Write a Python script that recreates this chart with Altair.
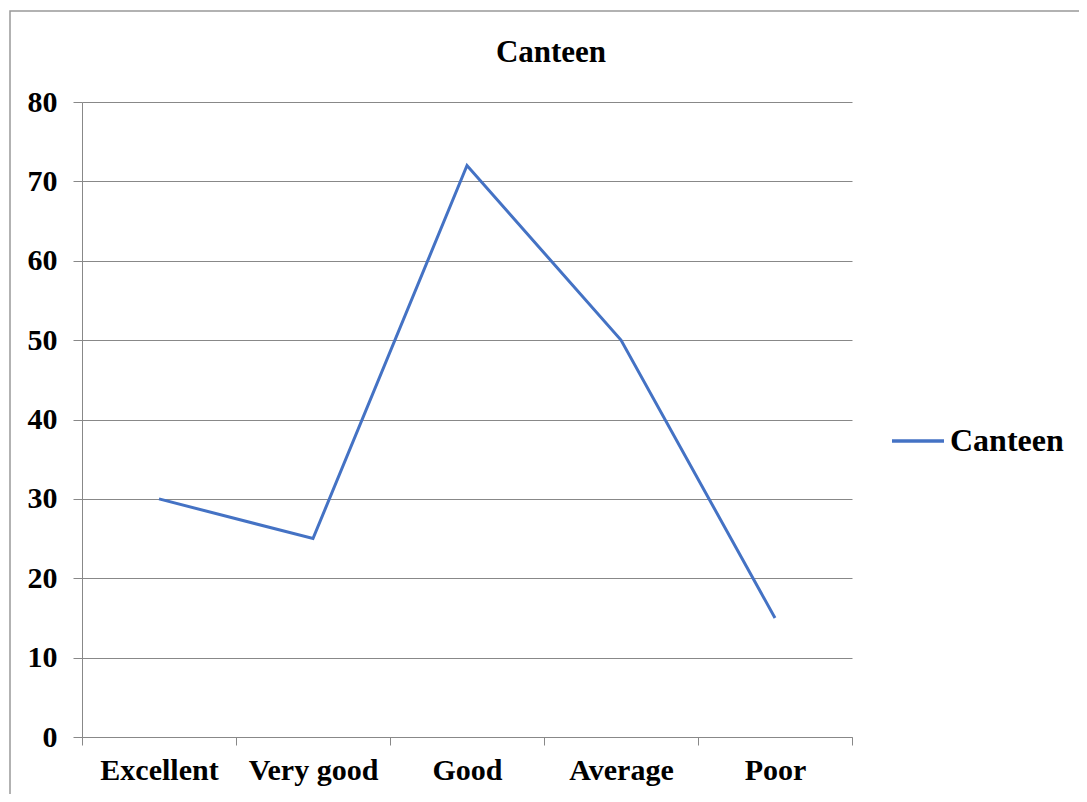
import altair as alt
import pandas as pd

categories = ["Excellent", "Very good", "Good", "Average", "Poor"]
values = [30, 25, 72, 50, 15]
series = ["Canteen"] * 5

df = pd.DataFrame({"category": categories, "value": values, "series": series})

FONT = "Liberation Serif"

line = alt.Chart(df).mark_line(strokeWidth=3).encode(
    x=alt.X("category:N", sort=categories,
            scale=alt.Scale(paddingInner=0, paddingOuter=0),
            axis=alt.Axis(title=None, labelAngle=0, tickBand="extent", tickSize=8,
                          labelPadding=10, grid=False)),
    y=alt.Y("value:Q", scale=alt.Scale(domain=[0, 80]),
            axis=alt.Axis(title=None, values=[0, 10, 20, 30, 40, 50, 60, 70, 80],
                          tickSize=9, labelPadding=16)),
    color=alt.Color("series:N", scale=alt.Scale(range=["#4472C4"]),
                    legend=alt.Legend(title=None, orient="none", legendX=808, legendY=311,
                                      symbolType="stroke", symbolSize=2704,
                                      symbolStrokeWidth=3.5, labelOffset=4)),
)

border = alt.Chart(pd.DataFrame({"b": [0]})).mark_rect(
    fill=None, stroke="#999999", strokeWidth=1.5
).encode(
    x=alt.value(-72), x2=alt.value(1030), y=alt.value(-91), y2=alt.value(720)
)

chart = alt.layer(border, line).properties(
    width=770, height=635,
    autosize=alt.AutoSizeParams(type="none"),
    padding={"left": 74, "top": 94, "right": 227, "bottom": 57},
    title=alt.TitleParams("Canteen", anchor="middle", frame="group", dx=84, offset=-59),
).configure(
    background="white"
).configure_view(
    stroke=None
).configure_axis(
    labelFontSize=30, labelFontWeight="bold", labelFont=FONT, labelColor="black",
    domainColor="#888888", tickColor="#888888", gridColor="#888888", gridWidth=1
).configure_legend(
    labelFontSize=32, labelFont=FONT, labelFontWeight="bold", labelColor="black",
    labelLimit=300
).configure_title(
    fontSize=31, font=FONT, fontWeight="bold", color="black"
)

chart.save("out.html", embed_options={"renderer": "svg", "actions": False})
